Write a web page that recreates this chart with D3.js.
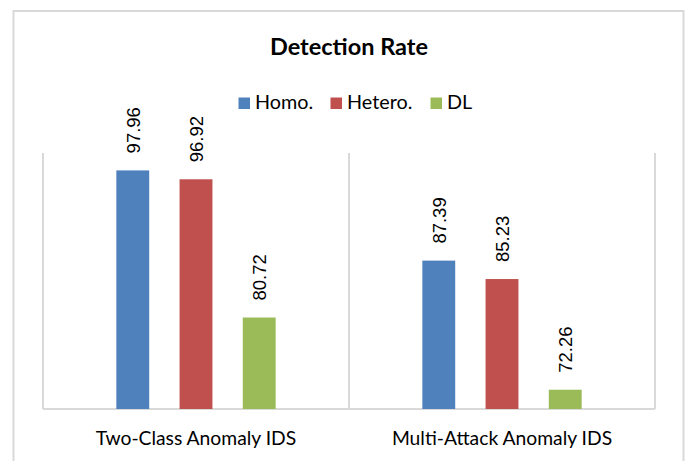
<!doctype html>
<html>
<head>
<meta charset="utf-8">
<script src="https://cdn.jsdelivr.net/npm/d3@7"></script>
<style>
  body { margin: 0; background: #fff; }
</style>
</head>
<body>
<script>
// Data.
const categories = ["Two-Class Anomaly IDS", "Multi-Attack Anomaly IDS"];
const seriesNames = ["Homo.", "Hetero.", "DL"];
const homo = [97.96, 87.39];
const hetero = [96.92, 85.23];
const dl = [80.72, 72.26];
const colors = ["#4F81BD", "#C0504D", "#9BBB59"];

const values = [homo, hetero, dl];
const rows = categories.flatMap((c, i) =>
  seriesNames.map((s, j) => ({category: c, series: s, value: values[j][i]})));

// Dimensions.
const width = 690;
const height = 461;
const marginTop = 153;
const marginRight = 35;
const marginBottom = 52;
const marginLeft = 43;

const labelFont = "Lato, 'Open Sans', sans-serif";

const x0 = d3.scaleBand(categories, [marginLeft, width - marginRight]);
const x1 = d3.scaleBand(seriesNames, [0, x0.bandwidth()])
    .paddingInner(0.48)
    .paddingOuter(1.16);
const y = d3.scaleLinear([70, 100], [height - marginBottom, marginTop]);
const color = d3.scaleOrdinal(seriesNames, colors);

const svg = d3.select("body").append("svg")
    .attr("width", width)
    .attr("height", height)
    .attr("viewBox", [0, 0, width, height]);

// Outer frame.
svg.append("rect")
    .attr("x", 13.5)
    .attr("y", 11)
    .attr("width", 670)
    .attr("height", 470)
    .attr("fill", "none")
    .attr("stroke", "#d9d9d9")
    .attr("stroke-width", 2);

// Title.
svg.append("text")
    .attr("x", 349)
    .attr("y", 55)
    .attr("text-anchor", "middle")
    .attr("font-family", labelFont)
    .attr("font-weight", "bold")
    .attr("font-size", 23.5)
    .attr("fill", "#000")
    .text("Detection Rate");

// Category separators and baseline.
const grid = svg.append("g")
    .attr("stroke", "#d9d9d9")
    .attr("stroke-width", 2);

grid.selectAll("line.sep")
  .data([...categories.map(c => x0(c)), x0.range()[1]])
  .join("line")
    .attr("class", "sep")
    .attr("x1", d => d)
    .attr("x2", d => d)
    .attr("y1", y(100))
    .attr("y2", y(70));

grid.append("line")
    .attr("x1", x0.range()[0])
    .attr("x2", x0.range()[1])
    .attr("y1", y(70))
    .attr("y2", y(70));

// Bars.
const groups = svg.append("g")
  .selectAll("g")
  .data(categories)
  .join("g")
    .attr("transform", d => `translate(${x0(d)},0)`);

groups.selectAll("rect")
  .data(c => rows.filter(r => r.category === c))
  .join("rect")
    .attr("x", d => x1(d.series))
    .attr("y", d => y(d.value))
    .attr("width", x1.bandwidth())
    .attr("height", d => y(70) - y(d.value))
    .attr("fill", d => color(d.series));

// Value labels, rotated.
groups.selectAll("text")
  .data(c => rows.filter(r => r.category === c))
  .join("text")
    .attr("transform", d => `translate(${x1(d.series) + x1.bandwidth() / 2 + 7},${y(d.value) - 17}) rotate(-90)`)
    .attr("font-family", "'Liberation Sans', Arial, sans-serif")
    .attr("font-size", 18.5)
    .attr("fill", "#000")
    .text(d => d.value.toFixed(2));

// Category labels.
svg.append("g")
  .selectAll("text")
  .data(categories)
  .join("text")
    .attr("x", d => x0(d) + x0.bandwidth() / 2)
    .attr("y", 444.5)
    .attr("text-anchor", "middle")
    .attr("font-family", labelFont)
    .attr("font-size", 19.3)
    .attr("fill", "#000")
    .text(d => d);

// Legend.
const legendX = [238.5, 330.5, 430.5];
const legend = svg.append("g")
  .selectAll("g")
  .data(seriesNames)
  .join("g")
    .attr("transform", (d, i) => `translate(${legendX[i]},97.5)`);

legend.append("rect")
    .attr("width", 11.5)
    .attr("height", 11.5)
    .attr("fill", d => color(d));

legend.append("text")
    .attr("x", 16.5)
    .attr("y", 11.7)
    .attr("font-family", labelFont)
    .attr("font-size", 19.8)
    .attr("fill", "#000")
    .text(d => d);
</script>
</body>
</html>
